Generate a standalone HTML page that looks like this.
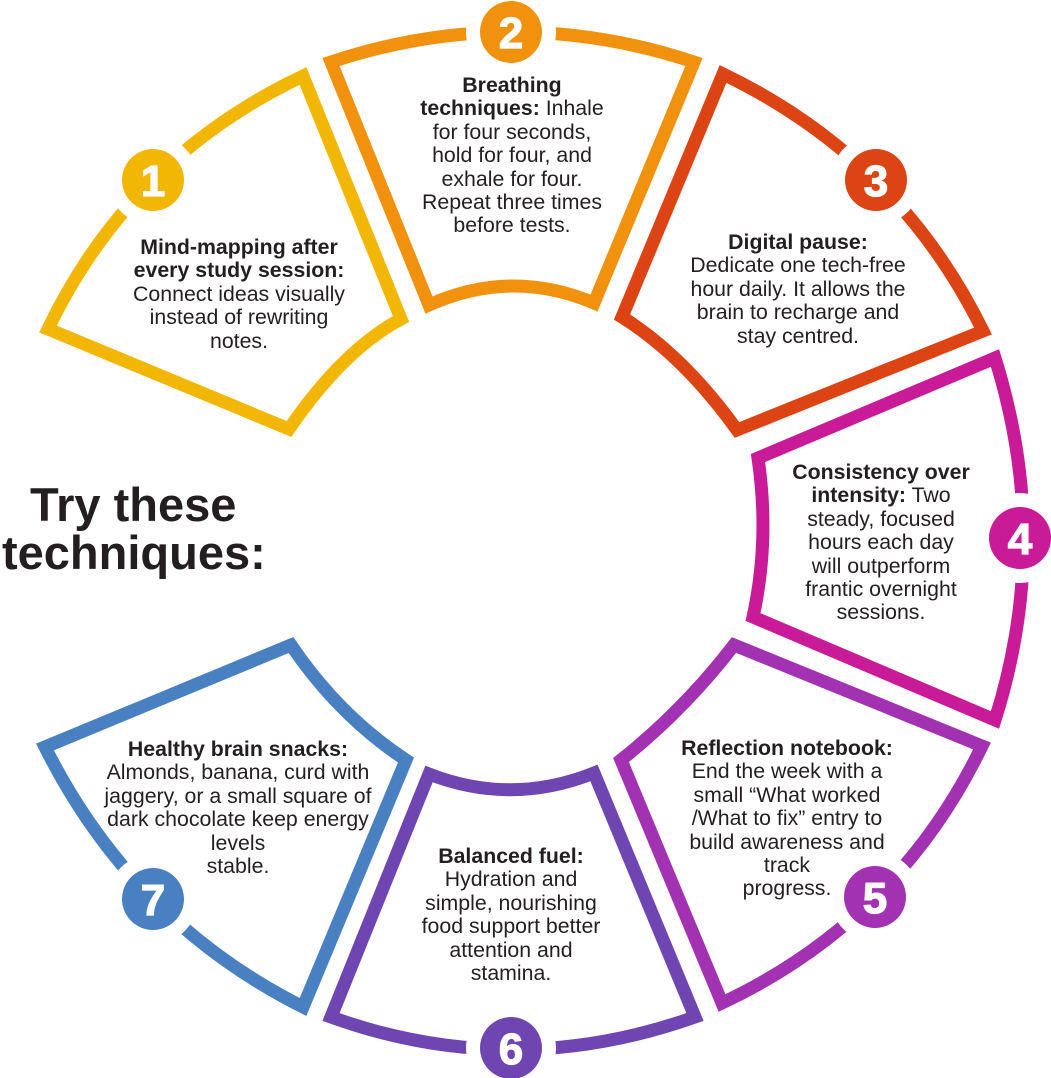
<!DOCTYPE html>
<html><head><meta charset="utf-8"><style>
html,body{margin:0;padding:0;background:#fff;}
#c{position:relative;width:1051px;height:1078px;overflow:hidden;font-family:"Liberation Sans",sans-serif;color:#231F20;}
svg{position:absolute;left:0;top:0;}
.t{position:absolute;text-align:center;font-size:21.3px;line-height:23.4px;white-space:nowrap;transform:translateX(-50%);}
.t b{font-weight:bold;}
.title{position:absolute;font-weight:bold;font-size:47px;line-height:48px;white-space:nowrap;}
.n{font-family:"Liberation Sans",sans-serif;font-weight:bold;font-size:44px;fill:#fff;text-anchor:middle;stroke:#fff;stroke-width:1.2px;}
</style></head><body><div id="c">
<svg width="1051" height="1078" viewBox="0 0 1051 1078">
<g fill="#fff" stroke-width="13" stroke-linejoin="miter">
<path d="M303,76 L401,319 Q343,350 289,429 L48,329 Q130,158 303,76 Z" stroke="#F2B705"/>
<path d="M331,62 Q512,2 694,62 L594,303 Q511,268 429,305 Z" stroke="#F0920E"/>
<path d="M723,74 Q898,158 983,331 L737,430 Q684,356 622,317 Z" stroke="#DD4414"/>
<path d="M995,358 Q1052,540 995,720 L753,617 Q770,540 758,458 Z" stroke="#C91A98"/>
<path d="M734,645 L982,746 Q898,920 722,1003 L621,760 Q684,710 734,645 Z" stroke="#A232B2"/>
<path d="M429,774 L331,1017 Q511,1082 695,1017 L594,773 Q511,806 429,774 Z" stroke="#6F45B2"/>
<path d="M291,645 L45,747 Q132,921 303,1007 L406,760 Q339,716 291,645 Z" stroke="#4880C2"/>
</g>
<g fill="#fff">
<circle cx="153" cy="180" r="45"/><circle cx="511" cy="32" r="45"/><circle cx="876" cy="180" r="45"/>
<circle cx="1020" cy="538" r="45"/><circle cx="875" cy="897" r="45"/><circle cx="511" cy="1048" r="45"/><circle cx="153" cy="899" r="45"/>
</g>
<circle cx="153" cy="180" r="31" fill="#F2B705"/>
<circle cx="511" cy="32" r="31" fill="#F0920E"/>
<circle cx="876" cy="180" r="31" fill="#DD4414"/>
<circle cx="1020" cy="538" r="31" fill="#C91A98"/>
<circle cx="875" cy="897" r="31" fill="#A232B2"/>
<circle cx="511" cy="1048" r="31" fill="#6F45B2"/>
<circle cx="153" cy="899" r="31" fill="#4880C2"/>
<text class="n" x="153" y="196">1</text>
<text class="n" x="511" y="48">2</text>
<text class="n" x="876" y="196">3</text>
<text class="n" x="1020" y="554">4</text>
<text class="n" x="875" y="913">5</text>
<text class="n" x="511" y="1064">6</text>
<text class="n" x="153" y="915">7</text>
</svg>

<div class="title" style="left:30px;top:481px;">Try these</div>
<div class="title" style="left:2px;top:529px;">techniques:</div>

<div class="t" style="left:239px;top:236px;"><b>Mind-mapping after</b><br><b>every study session:</b><br>Connect ideas visually<br>instead of rewriting<br>notes.</div>
<div class="t" style="left:512px;top:74px;"><b>Breathing</b><br><b>techniques:</b> Inhale<br>for four seconds,<br>hold for four, and<br>exhale for four.<br>Repeat three times<br>before tests.</div>
<div class="t" style="left:798px;top:231px;"><b>Digital pause:</b><br>Dedicate one tech-free<br>hour daily. It allows the<br>brain to recharge and<br>stay centred.</div>
<div class="t" style="left:881px;top:461px;"><b>Consistency over</b><br><b>intensity:</b> Two<br>steady, focused<br>hours each day<br>will outperform<br>frantic overnight<br>sessions.</div>
<div class="t" style="left:787px;top:737px;"><b>Reflection notebook:</b><br>End the week with a<br>small “What worked<br>/What to fix” entry to<br>build awareness and<br>track<br>progress.</div>
<div class="t" style="left:511px;top:845px;"><b>Balanced fuel:</b><br>Hydration and<br>simple, nourishing<br>food support better<br>attention and<br>stamina.</div>
<div class="t" style="left:238px;top:738px;"><b>Healthy brain snacks:</b><br>Almonds, banana, curd with<br>jaggery, or a small square of<br>dark chocolate keep energy<br>levels<br>stable.</div>
</div></body></html>
